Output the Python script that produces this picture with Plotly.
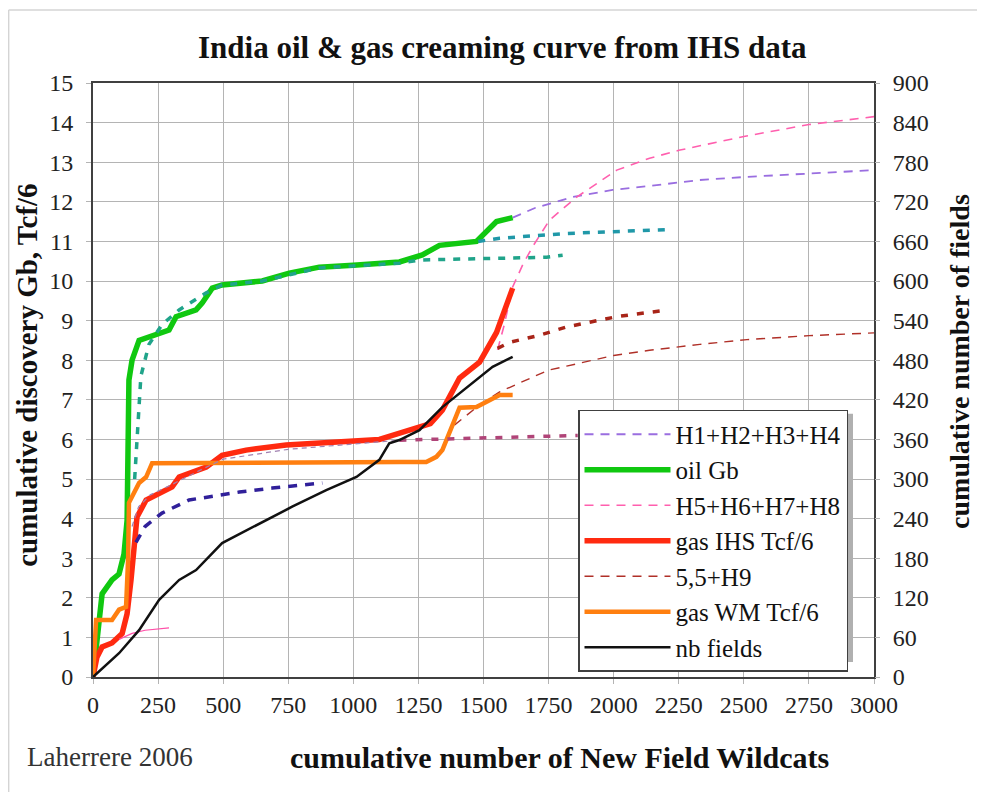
import plotly.graph_objects as go

# ---- data ----
# x = cumulative number of New Field Wildcats
oil_x = [0, 15, 35, 73, 100, 119, 131, 138, 150, 177, 230, 292, 319, 396, 419, 458, 496, 650,
         754, 869, 1000, 1177, 1265, 1331, 1473, 1550, 1612]
oil_y = [0, 1.0, 2.1, 2.45, 2.6, 3.1, 3.96, 7.5, 8.0, 8.5, 8.62, 8.76, 9.1, 9.27, 9.44, 9.82, 9.9,
         10.0, 10.2, 10.35, 10.4, 10.48, 10.66, 10.9, 11.0, 11.5, 11.6]

gas_ihs_x = [0, 15, 35, 73, 112, 131, 146, 158, 169, 204, 254, 304, 331, 381, 435, 496, 588, 742,
             1023, 1100, 1150, 1254, 1296, 1342, 1408, 1485, 1550, 1612]
gas_ihs_y = [0, 0.5, 0.76, 0.86, 1.1, 1.6, 2.45, 3.46, 4.04, 4.47, 4.65, 4.8, 5.05, 5.17, 5.3, 5.6,
             5.73, 5.86, 5.98, 6.0, 6.1, 6.3, 6.4, 6.74, 7.55, 7.95, 8.7, 9.82]

gas_wm_x = [0, 12, 73, 100, 127, 135, 138, 177, 204, 227, 1177, 1280, 1319, 1342, 1408, 1473, 1562, 1612]
gas_wm_y = [0, 1.44, 1.44, 1.7, 1.77, 3.0, 4.4, 4.9, 5.05, 5.4, 5.43, 5.43, 5.56, 5.73, 6.8, 6.82, 7.12, 7.12]

fields_x = [0, 50, 100, 177, 254, 331, 396, 496, 612, 765, 896, 1012, 1100, 1138, 1177, 1254, 1342,
            1435, 1535, 1612]
fields_n = [0, 18, 36, 71, 117, 147, 162, 203, 227, 258, 283, 303, 329, 354, 359, 374, 409, 439, 470, 485]

h1_4_x = [1612, 1700, 1842, 1996, 2138, 2331, 2512, 2780, 3000]
h1_4_y = [11.6, 11.85, 12.12, 12.3, 12.4, 12.55, 12.63, 12.72, 12.8]

h5_8_x = [1554, 1580, 1612, 1650, 1688, 1754, 1858, 2012, 2138, 2250, 2500, 2750, 3000]
h5_8_y = [8.26, 8.9, 9.85, 10.4, 10.86, 11.54, 12.12, 12.8, 13.1, 13.3, 13.65, 13.95, 14.15]

h9_x = [1388, 1485, 1562, 1650, 1750, 1819, 2000, 2138, 2331, 2512, 2750, 3000]
h9_y = [6.36, 6.87, 7.2, 7.45, 7.75, 7.85, 8.12, 8.25, 8.4, 8.52, 8.62, 8.69]

oil_fit_x = [160, 172, 184, 215, 265, 331, 435, 496, 650, 869, 1177, 1254, 1500, 1742, 1804]
oil_fit_y = [5.0, 6.4, 7.6, 8.4, 8.9, 9.27, 9.7, 9.9, 10.0, 10.33, 10.45, 10.53, 10.57, 10.6, 10.65]

oil_fit2_x = [1480, 1562, 1819, 2127, 2208]
oil_fit2_y = [11.0, 11.08, 11.2, 11.28, 11.3]

gas_fit_x = [165, 200, 265, 369, 562, 688, 881]
gas_fit_y = [3.4, 3.8, 4.14, 4.47, 4.67, 4.77, 4.9]

gas_fit2_x = [150, 175, 220, 300, 420, 500, 750, 1000, 1180]
gas_fit2_y = [3.8, 4.3, 4.6, 4.85, 5.25, 5.5, 5.75, 5.88, 5.98]

gas_flat_x = [1177, 1400, 1600, 1862]
gas_flat_y = [5.98, 6.02, 6.06, 6.1]

gas_up_x = [1554, 1600, 1715, 1819, 2012, 2208]
gas_up_y = [8.3, 8.45, 8.63, 8.84, 9.1, 9.27]

early_x = [100, 150, 200, 292]
early_y = [0.95, 1.1, 1.18, 1.24]

SERIF = "Liberation Serif"

fig = go.Figure()


def add(x, y, name, color, width, dash="solid", legend=True, axis="y"):
    fig.add_trace(go.Scatter(
        x=x, y=y, name=name, mode="lines", yaxis=axis,
        line=dict(color=color, width=width, dash=dash),
        showlegend=legend, hoverinfo="skip",
    ))


# legend entries, in legend order
add(h1_4_x, h1_4_y, "H1+H2+H3+H4", "#9a6ee0", 1.8, "9px,7px")
add(oil_x, oil_y, "oil Gb", "#10c810", 5.5)
add(h5_8_x, h5_8_y, "H5+H6+H7+H8", "#ff5fae", 1.6, "9px,7px")
add(gas_ihs_x, gas_ihs_y, "gas IHS Tcf/6", "#ff2a10", 5.5)
add(h9_x, h9_y, "5,5+H9", "#b03028", 1.4, "9px,7px")
add(gas_wm_x, gas_wm_y, "gas WM Tcf/6", "#ff7f10", 4.5)
add(fields_x, fields_n, "nb fields", "#111111", 2.5, axis="y2")

# model curves without legend entry
add(oil_fit_x, oil_fit_y, "oil fit", "#20a48a", 3.5, "7px,8px", legend=False)
add(oil_fit2_x, oil_fit2_y, "oil fit 2", "#2098a8", 3.5, "7px,8px", legend=False)
add(gas_fit_x, gas_fit_y, "gas fit", "#30209a", 3.5, "9px,8px", legend=False)
add(gas_fit2_x, gas_fit2_y, "gas fit 2", "#a080b0", 1.2, "5px,4px", legend=False)
add(gas_flat_x, gas_flat_y, "gas flat", "#b04478", 3.5, "7px,9px", legend=False)
add(gas_up_x, gas_up_y, "gas upper", "#a82418", 3.5, "7px,9px", legend=False)
add(early_x, early_y, "early", "#ff4fa8", 1.2, legend=False)

tickfont = dict(family=SERIF, size=24, color="#222222")
gridc = "#b4b4b4"

# page body has an 8px margin, so margins are shifted to keep the plot box in place
fig.update_layout(
    width=985, height=792,
    paper_bgcolor="white", plot_bgcolor="white",
    margin=dict(l=85, r=119, t=75, b=123),
    xaxis=dict(range=[0, 3000], dtick=250, showgrid=True, gridcolor=gridc, gridwidth=1,
               showline=True, linecolor="#404040", linewidth=2, mirror=True,
               ticks="outside", ticklen=5, tickcolor=gridc, tickfont=tickfont,
               zeroline=False, fixedrange=True),
    yaxis=dict(range=[0, 15], dtick=1, showgrid=True, gridcolor=gridc, gridwidth=1,
               showline=True, linecolor="#404040", linewidth=2, mirror=True,
               ticks="outside", ticklen=5, tickcolor=gridc, tickfont=tickfont,
               ticklabelstandoff=8, zeroline=False),
    yaxis2=dict(range=[0, 900], dtick=60, overlaying="y", side="right", showgrid=False,
                ticks="outside", ticklen=5, tickcolor=gridc, tickfont=tickfont,
                ticklabelstandoff=8, zeroline=False, showline=False),
    legend=dict(x=0.621, y=0.4495, xanchor="left", yanchor="top",
                bgcolor="white", bordercolor="#404040", borderwidth=1.5,
                font=dict(family=SERIF, size=25, color="#111111"),
                itemwidth=86, traceorder="normal"),
    showlegend=True,
)


def note(text, x, y, size, angle=0, color="#111111"):
    fig.add_annotation(text=text, x=x, y=y, xref="paper", yref="paper", showarrow=False,
                       xanchor="center", yanchor="middle", textangle=angle,
                       font=dict(family=SERIF, size=size, color=color))


note("<b>India oil &amp; gas creaming curve from IHS data</b>", 0.524, 1.0606, 31)
note("<b>cumulative number of New Field Wildcats</b>", 0.597, -0.136, 30)
note("<b>cumulative discovery Gb, Tcf/6</b>", -0.0845, 0.507, 29, angle=-90)
note("<b>cumulative number of fields</b>", 1.110, 0.532, 28, angle=-90)
note("Laherrere 2006", 0.0218, -0.1347, 27, color="#333333")

# thin drop shadow behind the legend box
fig.add_shape(type="rect", xref="paper", yref="paper", x0=0.627, x1=0.9731, y0=0.0253, y1=0.443,
              fillcolor="#b0b0b0", line=dict(width=0), layer="above")

# outer light frame of the original figure
fig.add_shape(type="line", xref="paper", yref="paper", x0=-0.108, x1=-0.108, y0=-0.2, y1=1.1229,
              line=dict(color="#d4d4d4", width=1.5))
fig.add_shape(type="line", xref="paper", yref="paper", x0=-0.108, x1=1.15, y0=1.1229, y1=1.1229,
              line=dict(color="#d4d4d4", width=1.5))

fig.write_html("out.html")
